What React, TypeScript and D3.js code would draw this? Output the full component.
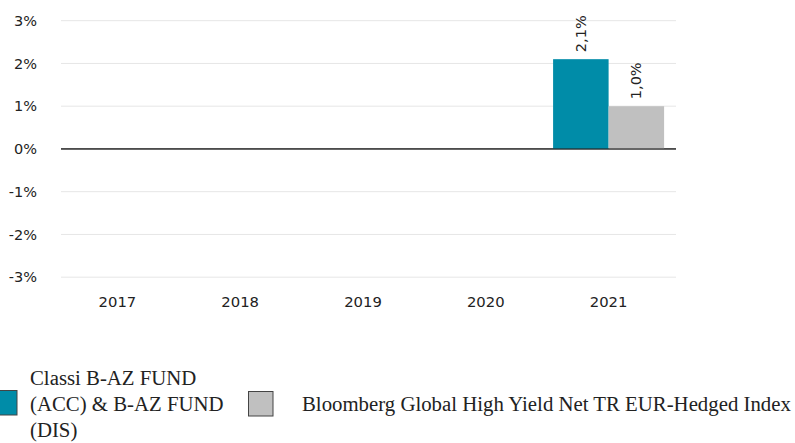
import React from "react";
import * as d3 from "d3";

const years = ["2017", "2018", "2019", "2020", "2021"];
const seriesNames = ["fund", "index"];
const fundValues: (number | null)[] = [null, null, null, null, 2.1];
const indexValues: (number | null)[] = [null, null, null, null, 1.0];
const yTicks = [-3, -2, -1, 0, 1, 2, 3];
const colors = ["#008CA8", "#C0C0C0"];
const legendFund = ["Classi B-AZ FUND", "(ACC) & B-AZ FUND", "(DIS)"];
const legendIndex = "Bloomberg Global High Yield Net TR EUR-Hedged Index";

export default function App() {
  const W = 795, H = 443;
  const y = d3.scaleLinear().domain([-3, 3]).range([277.2, 20.7]);
  const x0 = d3.scaleBand<string>().domain(years).range([56, 670]);
  const bw = x0.bandwidth();
  const x1 = d3.scaleBand<string>().domain(seriesNames).range([bw * 0.048, bw * 0.952]);
  const gridX1 = 61, gridX2 = 676;
  const data = [fundValues, indexValues];
  const sans = "DejaVu Sans";
  const fmt = (v: number) => v.toFixed(1).replace(".", ",") + "%";
  return (
    <svg width={W} height={H} style={{ position: "absolute", left: 0, top: 0 }}>
      {yTicks.map((t) => (
        <g key={t}>
          <line x1={gridX1} x2={gridX2} y1={y(t)} y2={y(t)} stroke={t === 0 ? "#222" : "#e6e6e6"} strokeWidth={1} />
          <text x={37} y={y(t)} dy="0.36em" textAnchor="end" fontFamily={sans} fontSize={14.5} fill="#222">
            {t + "%"}
          </text>
        </g>
      ))}
      {years.map((yr) => (
        <text key={yr} x={(x0(yr) as number) + bw / 2} y={307} textAnchor="middle" fontFamily={sans} fontSize={14.8} fill="#222">
          {yr}
        </text>
      ))}
      {data.map((vals, si) =>
        vals.map((v, i) => {
          if (v === null) return null;
          const bx = (x0(years[i]) as number) + (x1(seriesNames[si]) as number);
          const w = x1.bandwidth();
          const top = y(Math.max(0, v));
          const h = Math.abs(y(v) - y(0));
          const cx = bx + w / 2;
          return (
            <g key={si + "-" + i}>
              <rect x={bx} y={top} width={w} height={h} fill={colors[si]} />
              <text
                transform={`translate(${cx + 5},${top - 7}) rotate(-90)`}
                fontFamily={sans}
                fontSize={14.5}
                fill="#222"
              >
                {fmt(v)}
              </text>
            </g>
          );
        })
      )}
      <line x1={gridX1} x2={gridX2} y1={y(0)} y2={y(0)} stroke="#222" strokeWidth={1} />
      <g>
        <rect x={-8} y={390.5} width={25} height={24.5} fill={colors[0]} stroke="#444" strokeWidth={1} />
        {legendFund.map((l, i) => (
          <text key={i} x={30} y={385 + i * 26} fontFamily="Liberation Serif" fontSize={20.8} fill="#222">
            {l}
          </text>
        ))}
        <rect x={248.5} y={391.5} width={24.5} height={24.5} fill={colors[1]} stroke="#444" strokeWidth={1} />
        <text x={302} y={411} fontFamily="Liberation Serif" fontSize={20.8} fill="#222">
          {legendIndex}
        </text>
      </g>
    </svg>
  );
}
